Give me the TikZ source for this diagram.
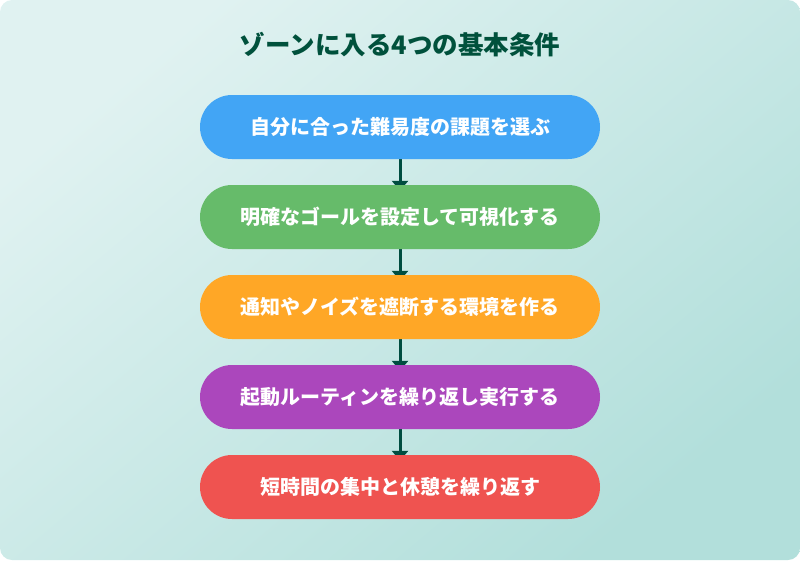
\documentclass[tikz,border=0pt]{standalone}
\usepackage{fontspec}
\newfontfamily\jpfont{Noto Sans CJK JP}
\usetikzlibrary{arrows.meta}
\definecolor{bgA}{HTML}{E0F2F1}
\definecolor{bgB}{HTML}{B2DFDB}
\definecolor{titlec}{HTML}{00513C}
\definecolor{arrowc}{HTML}{004D40}
\definecolor{cblue}{HTML}{42A5F5}
\definecolor{cgreen}{HTML}{66BB6A}
\definecolor{corange}{HTML}{FFA726}
\definecolor{cpurple}{HTML}{AB47BC}
\definecolor{cred}{HTML}{EF5350}
\pgfdeclarelayer{bg}
\pgfdeclarelayer{mid}
\pgfsetlayers{bg,mid,main}
\tikzset{
  pill/.style={rectangle, rounded corners=32pt, minimum width=400pt, minimum height=64pt,
    inner sep=0pt, text=white, font=\jpfont\bfseries\fontsize{20}{24}\selectfont},
  flow/.style={draw=arrowc, line width=3pt, -{Triangle[width=16pt,length=10pt]}}
}
\begin{document}
\begin{tikzpicture}[x=1pt,y=-1pt]
\useasboundingbox (0,0) rectangle (800,560);
\begin{pgfonlayer}{bg}
\shade[rounded corners=12pt, top color=bgA, bottom color=bgB, shading angle=40] (0,0) rectangle (800,560);
\end{pgfonlayer}
\node[font=\jpfont\bfseries\fontsize{25.5}{30}\selectfont, text=titlec] (title) at (400,45) {ゾーンに入る4つの基本条件};
\node[pill, fill=cblue] (b1) at (400,127) {自分に合った難易度の課題を選ぶ};
\node[pill, fill=cgreen] (b2) at (400,217) {明確なゴールを設定して可視化する};
\node[pill, fill=corange] (b3) at (400,307) {通知やノイズを遮断する環境を作る};
\node[pill, fill=cpurple] (b4) at (400,397) {起動ルーティンを繰り返し実行する};
\node[pill, fill=cred] (b5) at (400,487) {短時間の集中と休憩を繰り返す};
\begin{pgfonlayer}{mid}
\draw[flow] (b1.south) -- ([yshift=-6pt]b2.north);
\draw[flow] (b2.south) -- ([yshift=-6pt]b3.north);
\draw[flow] (b3.south) -- ([yshift=-6pt]b4.north);
\draw[flow] (b4.south) -- ([yshift=-6pt]b5.north);
\end{pgfonlayer}
\end{tikzpicture}
\end{document}
